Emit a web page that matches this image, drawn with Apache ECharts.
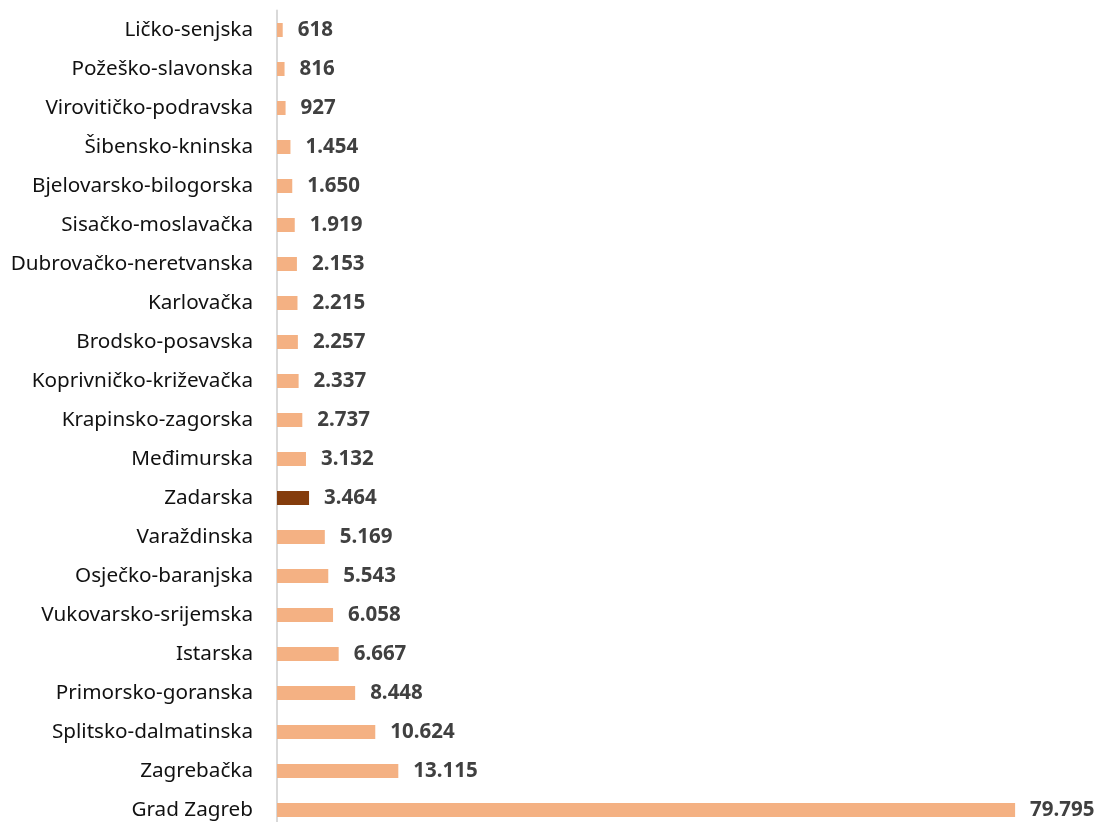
<!DOCTYPE html>
<html>
	<head>
		<meta charset="UTF-8">
		<title></title>
		<script src="https://cdn.jsdelivr.net/npm/echarts@6/dist/echarts.min.js"></script>
		<style>
			html, body { margin: 0; padding: 0; background: #fff; }
		</style>
	</head>
	<body>
		<div id="chart" style="width: 1099px; height: 822px;"></div>
		<script type="text/javascript">
			// zupanije, odozgo prema dolje
			var counties = ['Ličko-senjska', 'Požeško-slavonska', 'Virovitičko-podravska', 'Šibensko-kninska',
				'Bjelovarsko-bilogorska', 'Sisačko-moslavačka', 'Dubrovačko-neretvanska', 'Karlovačka',
				'Brodsko-posavska', 'Koprivničko-križevačka', 'Krapinsko-zagorska', 'Međimurska', 'Zadarska',
				'Varaždinska', 'Osječko-baranjska', 'Vukovarsko-srijemska', 'Istarska', 'Primorsko-goranska',
				'Splitsko-dalmatinska', 'Zagrebačka', 'Grad Zagreb'];
			var values = [618, 816, 927, 1454, 1650, 1919, 2153, 2215, 2257, 2337, 2737, 3132, 3464,
				5169, 5543, 6058, 6667, 8448, 10624, 13115, 79795];
			var highlight = 'Zadarska';

			function fmt(v) {
				return String(v).replace(/\B(?=(\d{3})+(?!\d))/g, '.');
			}

			var data = [];
			for(var i = 0; i < values.length; i++) {
				data.push({
					value: values[i],
					itemStyle: { color: counties[i] === highlight ? '#843C0C' : '#F4B183' }
				});
			}

			var myChart = echarts.init(document.getElementById('chart'));
			myChart.setOption({
				animation: false,
				grid: {
					left: 277, top: 10.5, width: 740, height: 819,
					containLabel: false, outerBoundsMode: 'none'
				},
				xAxis: {
					type: 'value',
					min: 0,
					max: 80000,
					show: false
				},
				yAxis: {
					type: 'category',
					inverse: true,
					data: counties,
					axisLine: { show: true, lineStyle: { color: '#D9D9D9', width: 2 } },
					axisTick: { show: false },
					axisLabel: {
						margin: 24,
						fontFamily: 'Noto Sans',
						fontSize: 20.7,
						color: '#111'
					}
				},
				series: [{
					type: 'bar',
					data: data,
					barWidth: 14,
					label: {
						show: true,
						position: 'right',
						distance: 15,
						fontFamily: 'Noto Sans',
						fontWeight: 'bold',
						fontSize: 20.5,
						color: '#404040',
						formatter: function(p) { return fmt(p.value); }
					}
				}]
			});
		</script>
	</body>
</html>
